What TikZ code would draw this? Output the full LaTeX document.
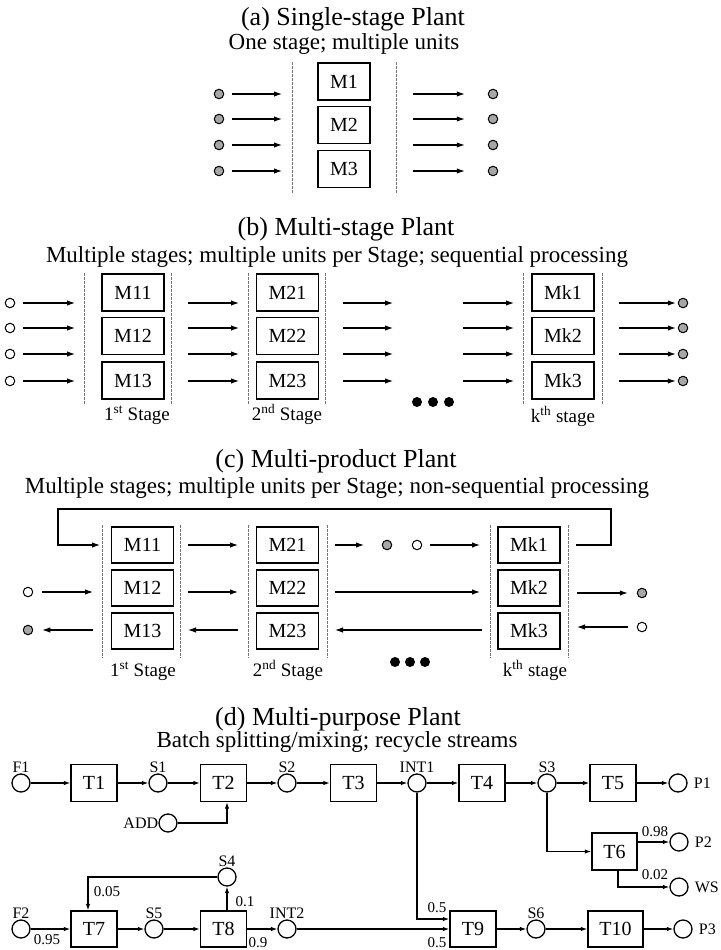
\documentclass[tikz,border=0pt]{standalone}
\usepackage{fontspec}
\setmainfont{Liberation Serif}
\usetikzlibrary{arrows.meta}
\newcommand\myfs[1]{\fontsize{#1}{#1}\selectfont}
\tikzset{
  ttl/.style={font=\myfs{26}, anchor=base, inner sep=0},
  subttl/.style={font=\myfs{23}, anchor=base, inner sep=0},
  mbox/.style={draw, line width=1.7pt, minimum width=62pt, minimum height=37pt, inner sep=0, font=\myfs{20}},
  sepline/.style={draw=black!55, line width=0.8pt, dash pattern=on 3pt off 1pt},
  arr/.style={-{Latex[length=8pt,width=5.5pt]}, line width=1.1pt},
  odot/.style={circle, draw, line width=1pt, minimum size=9.5pt, inner sep=0, fill=white},
  gdot/.style={odot, fill=black!35},
  bdot/.style={circle, fill=black, minimum size=10pt, inner sep=0},
  stg/.style={font=\myfs{19}, anchor=base, inner sep=0},
  tbox/.style={draw, line width=1.4pt, minimum width=46pt, minimum height=37pt, inner sep=0, font=\myfs{20}},
  vcirc/.style={circle, draw, line width=1.3pt, minimum size=18pt, inner sep=0, fill=white},
  lbl/.style={font=\myfs{16}, inner sep=1pt},
  num/.style={font=\myfs{15}, inner sep=0},
  flow/.style={-{Latex[length=6.5pt,width=4.5pt]}, line width=1.2pt}
}
\begin{document}
\begin{tikzpicture}[x=1pt,y=-1pt]
\useasboundingbox (0,0) rectangle (720,950);

% ---------------- (a) ----------------
\node[ttl] (ta) at (353,26) {(a) Single-stage Plant};
\node[subttl] (sa) at (344,50) {One stage; multiple units};
\draw[sepline] (292,62) -- (292,193);
\draw[sepline] (396,62) -- (396,193);
\node[mbox, minimum width=52pt] (M1) at (344,81.5) {M1};
\node[mbox, minimum width=52pt] (M2) at (344,125) {M2};
\node[mbox, minimum width=52pt] (M3) at (344,169) {M3};
\foreach \y [count=\i] in {94,119,145,171} {
  \node[gdot] (ain\i) at (219,\y) {};
  \coordinate (aie\i) at (282,\y);
  \draw[arr, shorten <=8pt] (ain\i) -- (aie\i);
  \node[gdot] (aout\i) at (493,\y) {};
  \coordinate (aos\i) at (413,\y);
  \draw[arr, shorten >=23pt] (aos\i) -- (aout\i);
}

% ---------------- (b) ----------------
\node[ttl] (tb) at (346,235) {(b) Multi-stage Plant};
\node[subttl] (sb) at (337,262) {Multiple stages; multiple units per Stage; sequential processing};
\foreach \x in {84,171,248,325,523,602} {
  \draw[sepline] (\x,273) -- (\x,404);
}
\foreach \x/\s in {133/1,287.5/2,563/k} {
  \node[mbox] (bM\s1) at (\x,292.5) {M\s1};
  \node[mbox] (bM\s2) at (\x,336) {M\s2};
  \node[mbox] (bM\s3) at (\x,380.5) {M\s3};
}
\foreach \y [count=\i] in {303,328,354,381} {
  \node[odot] (bin\i) at (10,\y) {};
  \coordinate (bie\i) at (75,\y);
  \draw[arr, shorten <=8pt] (bin\i) -- (bie\i);
  \coordinate (b1s\i) at (188,\y); \coordinate (b1e\i) at (239,\y);
  \draw[arr] (b1s\i) -- (b1e\i);
  \coordinate (b2s\i) at (343,\y); \coordinate (b2e\i) at (393,\y);
  \draw[arr] (b2s\i) -- (b2e\i);
  \coordinate (b3s\i) at (463,\y); \coordinate (b3e\i) at (514,\y);
  \draw[arr] (b3s\i) -- (b3e\i);
  \node[gdot] (bout\i) at (683,\y) {};
  \coordinate (bos\i) at (619,\y);
  \draw[arr, shorten >=2pt] (bos\i) -- (bout\i);
}
\node[bdot] (bd1) at (417,402) {};
\node[bdot] (bd2) at (433,402) {};
\node[bdot] (bd3) at (449,402) {};
\node[stg] (bl1) at (137,420) {1\textsuperscript{st} Stage};
\node[stg] (bl2) at (287,420) {2\textsuperscript{nd} Stage};
\node[stg] (blk) at (563,422) {k\textsuperscript{th} stage};

% ---------------- (c) ----------------
\node[ttl] (tc) at (336,467) {(c) Multi-product Plant};
\node[subttl] (sc) at (337,493) {Multiple stages; multiple units per Stage; non-sequential processing};
\foreach \x in {102,180,248,327,490,568} {
  \draw[sepline] (\x,525) -- (\x,658);
}
\foreach \x/\s in {142.5/1,287.5/2,529/k} {
  \node[mbox, minimum height=36pt] (cM\s1) at (\x,545) {M\s1};
  \node[mbox, minimum height=36pt] (cM\s2) at (\x,588) {M\s2};
  \node[mbox, minimum height=36pt] (cM\s3) at (\x,631) {M\s3};
}
% recycle loop
\coordinate (cl0) at (576,545);
\coordinate (cl1) at (100,545);
\draw[arr] (cl0) -- (611,545) -- (611,509) -- (58,509) -- (58,545) -- (cl1);
% row 1
\coordinate (c1a) at (188,545); \coordinate (c1b) at (238,545);
\draw[arr] (c1a) -- (c1b);
\coordinate (c1c) at (335,545); \coordinate (c1d) at (364,545);
\draw[arr] (c1c) -- (c1d);
\node[gdot] (cg1) at (387,545) {};
\node[odot] (cw1) at (417,545) {};
\coordinate (c1e) at (480,545);
\draw[arr, shorten <=8pt] (cw1) -- (c1e);
% row 2
\node[odot] (cin2) at (28,592) {};
\coordinate (c2a) at (93,592);
\draw[arr, shorten <=9pt] (cin2) -- (c2a);
\coordinate (c2b) at (188,592); \coordinate (c2c) at (238,592);
\draw[arr] (c2b) -- (c2c);
\coordinate (c2d) at (335,592); \coordinate (c2e) at (480,592);
\draw[arr] (c2d) -- (c2e);
\node[gdot] (cout2) at (642,593) {};
\coordinate (c2f) at (577,593);
\draw[arr, shorten >=9pt] (c2f) -- (cout2);
% row 3
\node[gdot] (cout3) at (28,630) {};
\coordinate (c3a) at (93,630);
\draw[arr, shorten >=9pt] (c3a) -- (cout3);
\coordinate (c3b) at (238,630); \coordinate (c3c) at (188,630);
\draw[arr] (c3b) -- (c3c);
\coordinate (c3d) at (482,630); \coordinate (c3e) at (335,630);
\draw[arr] (c3d) -- (c3e);
\node[odot] (cin3) at (642,627) {};
\coordinate (c3f) at (577,627);
\draw[arr, shorten <=9pt] (cin3) -- (c3f);
\node[bdot] (cd1) at (395,662) {};
\node[bdot] (cd2) at (410,662) {};
\node[bdot] (cd3) at (425,662) {};
\node[stg] (cl1t) at (143,676) {1\textsuperscript{st} Stage};
\node[stg] (cl2t) at (288,676) {2\textsuperscript{nd} Stage};
\node[stg] (clkt) at (535,676) {k\textsuperscript{th} stage};

% ---------------- (d) ----------------
\node[ttl] (td) at (338,725) {(d) Multi-purpose Plant};
\node[subttl] (sd) at (337,747) {Batch splitting/mixing; recycle streams};

% top row
\node[vcirc] (F1) at (21,783) {};
\node[tbox] (T1) at (94,783) {T1};
\node[vcirc] (S1) at (158,783) {};
\node[tbox] (T2) at (223.5,783) {T2};
\node[vcirc] (S2) at (287,783) {};
\node[tbox] (T3) at (353.5,783) {T3};
\node[vcirc] (INT1) at (417,783) {};
\node[tbox] (T4) at (482,783) {T4};
\node[vcirc] (S3) at (547,783) {};
\node[tbox] (T5) at (613,783) {T5};
\node[vcirc] (P1) at (678,783) {};
\foreach \n/\t in {F1/F1,S1/S1,S2/S2,INT1/INT1,S3/S3} {
  \node[lbl, anchor=south] (\n l) at (\n.north) {\t};
}
\node[lbl, anchor=west] (P1l) at ([xshift=5pt]P1.east) {P1};
\draw[flow] (F1) -- (T1);
\draw[flow] (T1) -- (S1);
\draw[flow] (S1) -- (T2);
\draw[flow] (T2) -- (S2);
\draw[flow] (S2) -- (T3);
\draw[flow] (T3) -- (INT1);
\draw[flow] (INT1) -- (T4);
\draw[flow] (T4) -- (S3);
\draw[flow] (S3) -- (T5);
\draw[flow] (T5) -- (P1);

% ADD
\node[vcirc] (ADD) at (168,823) {};
\node[lbl, anchor=east, inner sep=0] (ADDl) at (ADD.west) {ADD};
\coordinate (addc) at (227,823);
\draw[flow] (ADD) -- (addc) -- (addc |- T2.south);

% T6 branch
\node[tbox, minimum width=45pt] (T6) at (614.5,851.5) {T6};
\node[vcirc] (P2) at (679,842) {};
\node[vcirc] (WS) at (679,887) {};
\node[lbl, anchor=west] (P2l) at ([xshift=5pt]P2.east) {P2};
\node[lbl, anchor=west] (WSl) at ([xshift=5pt]WS.east) {WS};
\draw[flow] (S3) |- (T6);
\draw[flow] (T6.east |- P2) -- (P2);
\draw[flow] ([xshift=3.5pt]T6.south) |- (WS);
\node[num] (n098) at (655,832) {0.98};
\node[num] (n002) at (655,875) {0.02};

% bottom row
\node[vcirc] (F2) at (21,929) {};
\node[tbox, minimum height=36pt] (T7) at (94,929) {T7};
\node[vcirc] (S5) at (154,929) {};
\node[tbox, minimum height=36pt] (T8) at (223.5,929) {T8};
\node[vcirc] (INT2) at (287,929) {};
\node[tbox, minimum height=36pt] (T9) at (473,929) {T9};
\node[vcirc] (S6) at (536,929) {};
\node[tbox, minimum width=55pt, minimum height=36pt] (T10) at (615.5,929) {T10};
\node[vcirc] (P3) at (683,929) {};
\node[vcirc] (S4) at (227,877) {};
\foreach \n/\t in {F2/F2,S5/S5,INT2/INT2,S6/S6,S4/S4} {
  \node[lbl, anchor=south] (\n l) at (\n.north) {\t};
}
\node[lbl, anchor=west] (P3l) at ([xshift=5pt]P3.east) {P3};
\draw[flow] (F2) -- (T7);
\draw[flow] (T7) -- (S5);
\draw[flow] (S5) -- (T8);
\draw[flow] (T8) -- (INT2);
\draw[flow] (INT2) -- (T9);
\draw[flow] (T9) -- (S6);
\draw[flow] (S6) -- (T10);
\draw[flow] (T10) -- (P3);
\draw[flow] (S4 |- T8.north) -- (S4);
\draw[flow] (S4) -| ([xshift=-6pt]T7.north);
\draw[flow] (INT1) |- ([yshift=10pt]T9.west);
\node[num] (n005) at (107,892) {0.05};
\node[num] (n01) at (245,902) {0.1};
\node[num] (n095) at (47,940) {0.95};
\node[num] (n09) at (258,943) {0.9};
\node[num] (n05a) at (437,908) {0.5};
\node[num] (n05b) at (437,943) {0.5};
\end{tikzpicture}
\end{document}
